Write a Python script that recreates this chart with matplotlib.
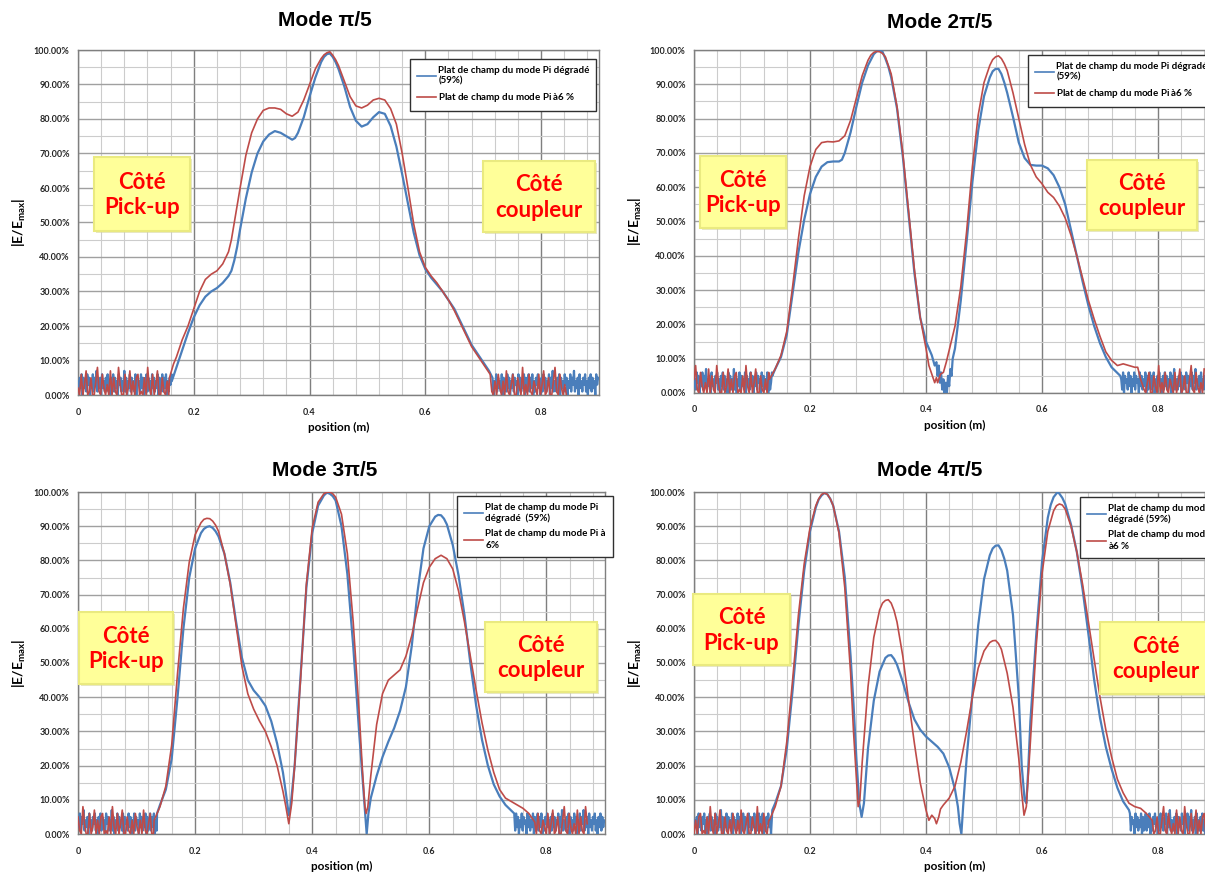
import numpy as np
import matplotlib
matplotlib.use("Agg")
import matplotlib.pyplot as plt
from matplotlib.ticker import MultipleLocator, PercentFormatter, FuncFormatter
from matplotlib.patches import Rectangle
from matplotlib.lines import Line2D

plt.rcParams["font.family"] = ["Lato", "DejaVu Sans"]
plt.rcParams["mathtext.fontset"] = "custom"
plt.rcParams["mathtext.rm"] = "Lato"
plt.rcParams["mathtext.bf"] = "Lato:bold"
plt.rcParams["mathtext.it"] = "Lato:italic"

W, H = 1205, 872
BLUE = "#4a7ebb"
RED = "#be4b48"

# --- donnees : (position m, |E/Emax| %) ---
# Mode pi/5
pi5_blue = [(0.162, 4), (0.17, 8), (0.18, 13), (0.19, 18), (0.2, 22.5), (0.21, 26), (0.22, 28.5),
            (0.23, 30), (0.24, 31), (0.25, 32.5), (0.26, 34.5), (0.265, 36), (0.27, 39), (0.275, 43),
            (0.28, 48), (0.29, 57), (0.30, 64.5), (0.31, 70), (0.32, 73.5), (0.33, 75.5), (0.34, 76.5),
            (0.35, 76), (0.36, 75), (0.37, 74), (0.375, 74.5), (0.38, 76), (0.39, 80.5), (0.40, 86.5),
            (0.41, 92), (0.42, 96.5), (0.425, 98), (0.43, 98.8), (0.435, 99), (0.44, 98), (0.445, 96.5),
            (0.45, 94.5), (0.46, 89.5),
            (0.47, 83.5), (0.48, 79.5), (0.49, 77.8), (0.50, 78.5), (0.51, 80.5), (0.52, 82), (0.53, 81.5),
            (0.54, 78), (0.55, 72), (0.56, 64), (0.57, 55.5), (0.58, 47), (0.59, 40.5), (0.60, 36.5),
            (0.61, 34), (0.62, 32), (0.63, 30), (0.64, 27.5), (0.65, 25), (0.66, 21.5), (0.67, 18),
            (0.68, 14.5), (0.69, 12), (0.70, 9.5), (0.71, 7), (0.716, 5)]
pi5_red = [(0.158, 5), (0.165, 9), (0.17, 11), (0.18, 16), (0.19, 20), (0.2, 25), (0.21, 30), (0.22, 33.5),
           (0.23, 35), (0.24, 36), (0.25, 38), (0.26, 41.5), (0.265, 45), (0.27, 50), (0.28, 60),
           (0.29, 69.5), (0.30, 76), (0.31, 80), (0.32, 82.5), (0.33, 83.2), (0.34, 83.2), (0.35, 82.8),
           (0.36, 81.5), (0.37, 80.8), (0.38, 82), (0.39, 85.5), (0.40, 90), (0.41, 94.5), (0.42, 97.5),
           (0.425, 98.6), (0.43, 99.2), (0.435, 99.5), (0.44, 98.5), (0.445, 97.2), (0.45, 95.5),
           (0.46, 91), (0.47, 86.5), (0.48, 83.8),
           (0.49, 83.2), (0.50, 84), (0.51, 85.5), (0.52, 86), (0.53, 85.5), (0.54, 83), (0.55, 78.5),
           (0.56, 70), (0.57, 60), (0.58, 49.5), (0.59, 41.5), (0.60, 37), (0.61, 34.5), (0.62, 32.5),
           (0.63, 30), (0.64, 27.5), (0.65, 24.5), (0.66, 21), (0.67, 17.5), (0.68, 14), (0.69, 11.5),
           (0.70, 9), (0.712, 6)]

# Mode 2pi/5
pi25_blue = [(0.135, 5), (0.14, 7), (0.15, 10.5), (0.16, 17), (0.17, 29), (0.18, 41), (0.19, 50.5),
             (0.20, 58), (0.21, 63), (0.22, 66), (0.23, 67.3), (0.24, 67.5), (0.25, 67.5), (0.255, 68),
             (0.26, 70), (0.27, 76), (0.28, 83.5), (0.29, 90.5), (0.30, 95.5), (0.31, 98.8), (0.315, 99.6),
             (0.32, 99.8), (0.325, 99.5), (0.33, 97.5), (0.335, 95.2), (0.34, 92), (0.35, 83), (0.36, 69),
             (0.37, 52), (0.38, 35),
             (0.39, 22), (0.40, 15), (0.41, 11), (0.415, 8), (0.418, 9), (0.420, 5), (0.422, 8),
             (0.424, 3), (0.426, 6), (0.428, 1), (0.430, 4), (0.432, 0), (0.434, 3), (0.436, 0),
             (0.438, 5), (0.440, 2), (0.442, 7), (0.444, 5), (0.446, 10), (0.45, 13), (0.46, 27),
             (0.47, 44), (0.48, 61.5), (0.49, 76.5), (0.50, 86.5), (0.51, 92), (0.515, 93.8), (0.52, 94.5),
             (0.525, 94.5), (0.53, 93), (0.535, 90.5),
             (0.54, 87.5), (0.55, 80.5), (0.56, 73), (0.57, 68.5), (0.58, 66.5), (0.59, 66.3),
             (0.60, 66.3), (0.61, 65.5), (0.62, 63.5), (0.63, 60), (0.64, 55), (0.65, 47.5), (0.66, 40),
             (0.67, 32.5), (0.68, 25.5), (0.69, 19.5), (0.70, 14.5), (0.71, 10.5), (0.72, 7.5), (0.735, 5)]
pi25_red = [(0.13, 4), (0.14, 7), (0.15, 11), (0.16, 18), (0.17, 31), (0.18, 45), (0.19, 57.5), (0.20, 66),
            (0.21, 71), (0.22, 73), (0.23, 73.3), (0.24, 73.2), (0.25, 73.5), (0.26, 75), (0.27, 79.5),
            (0.28, 86), (0.29, 92.5), (0.30, 97), (0.305, 98.5), (0.31, 99.3), (0.315, 99.6), (0.32, 99.5),
            (0.325, 99), (0.33, 98),
            (0.34, 93), (0.35, 83.5), (0.36, 70), (0.37, 53), (0.38, 36), (0.39, 22), (0.40, 13),
            (0.405, 8), (0.41, 5.5), (0.415, 3), (0.418, 4.5), (0.42, 3), (0.425, 5.5), (0.43, 6),
            (0.435, 9), (0.44, 12.5), (0.45, 19.5), (0.46, 31), (0.47, 47), (0.48, 66), (0.49, 81),
            (0.50, 90.5), (0.51, 95.5), (0.515, 97.2), (0.52, 98), (0.525, 98.3), (0.53, 97.5),
            (0.535, 96), (0.54, 94), (0.55, 87.5),
            (0.56, 80), (0.57, 72.5), (0.58, 66.5), (0.59, 63), (0.60, 61), (0.61, 58.5), (0.62, 57),
            (0.63, 54.5), (0.64, 51), (0.65, 46), (0.66, 40), (0.67, 33.5), (0.68, 27), (0.69, 21.5),
            (0.70, 16.5), (0.71, 12), (0.72, 9.5), (0.73, 8), (0.74, 8.5), (0.75, 8), (0.76, 7.5),
            (0.765, 7.5), (0.77, 4), (0.776, 1)]

# Mode 3pi/5
pi35_blue = [(0.135, 6), (0.14, 8.5), (0.15, 13), (0.16, 22), (0.17, 40), (0.18, 60), (0.19, 75),
             (0.20, 83.5), (0.21, 88), (0.215, 89.2), (0.22, 89.8), (0.225, 90), (0.23, 89.5),
             (0.235, 88.5), (0.24, 87), (0.25, 82), (0.26, 73.5),
             (0.27, 62), (0.28, 51.5), (0.29, 45), (0.30, 42), (0.31, 40), (0.32, 37.5), (0.33, 33),
             (0.34, 26.5), (0.35, 18), (0.355, 12), (0.36, 5.5), (0.363, 8), (0.37, 20), (0.38, 46),
             (0.39, 72), (0.40, 88), (0.41, 96), (0.42, 99), (0.425, 99.8), (0.43, 99.5), (0.435, 98.8),
             (0.44, 97.5),
             (0.45, 90), (0.46, 76), (0.47, 55), (0.48, 30), (0.487, 14), (0.49, 7), (0.493, 0),
             (0.496, 6), (0.50, 10.5), (0.51, 17), (0.52, 22.5), (0.53, 27), (0.54, 31), (0.55, 36),
             (0.56, 43), (0.57, 55), (0.58, 71), (0.59, 83.5), (0.60, 90), (0.61, 92.8), (0.615, 93.3),
             (0.62, 93.2), (0.625, 92.2),
             (0.63, 90.5), (0.64, 84.5), (0.65, 75.5), (0.66, 64), (0.67, 50), (0.68, 37.5), (0.69, 27.5),
             (0.70, 20), (0.71, 14.5), (0.72, 11), (0.73, 8.5), (0.745, 6)]
pi35_red = [(0.13, 4), (0.14, 8), (0.15, 14), (0.16, 26), (0.17, 47), (0.18, 66), (0.19, 79.5), (0.20, 87.5),
            (0.21, 91), (0.215, 92), (0.22, 92.3), (0.225, 92.2), (0.23, 91.5), (0.235, 90.3),
            (0.24, 88.5), (0.25, 82), (0.26, 73), (0.27, 61),
            (0.28, 49), (0.29, 41), (0.30, 36.5), (0.31, 33), (0.32, 30), (0.33, 25.5), (0.34, 20),
            (0.35, 12.5), (0.355, 8), (0.36, 3), (0.365, 9), (0.37, 20), (0.38, 45), (0.39, 73),
            (0.40, 89.5), (0.41, 97), (0.42, 99.5), (0.425, 99.9), (0.43, 100), (0.435, 99.5), (0.44, 98.5),
            (0.45, 93.5), (0.46, 82),
            (0.47, 62), (0.48, 36), (0.486, 18), (0.49, 8), (0.492, 6), (0.495, 8), (0.50, 17), (0.51, 32),
            (0.52, 41), (0.53, 45), (0.54, 46.5), (0.55, 48), (0.56, 52), (0.57, 58), (0.58, 66),
            (0.59, 73.5), (0.60, 78), (0.61, 80.5), (0.62, 81.5), (0.63, 80.5), (0.64, 77.5), (0.65, 71),
            (0.66, 62), (0.67, 52), (0.68, 42), (0.69, 32.5), (0.70, 24.5), (0.71, 18), (0.72, 13),
            (0.73, 10.5), (0.74, 9.5), (0.75, 8.5), (0.76, 7.5), (0.77, 6), (0.78, 3.5)]

# Mode 4pi/5
pi45_blue = [(0.135, 7), (0.14, 9), (0.15, 14), (0.16, 25), (0.17, 42), (0.18, 61), (0.19, 77),
             (0.20, 88.5), (0.21, 95.5), (0.215, 97.8), (0.22, 99), (0.225, 99.7), (0.23, 99.3),
             (0.235, 98), (0.24, 96), (0.25, 88.5),
             (0.26, 75), (0.27, 52), (0.275, 38), (0.28, 22), (0.285, 9), (0.289, 5), (0.293, 9),
             (0.30, 25), (0.31, 39), (0.32, 47.5), (0.33, 51.5), (0.335, 52.2), (0.34, 52.3), (0.345, 51.2),
             (0.35, 49.5), (0.36, 44.5),
             (0.37, 38.5), (0.38, 33.5), (0.39, 30.5), (0.40, 28.5), (0.41, 27), (0.42, 25.5), (0.43, 23.5),
             (0.44, 19.5), (0.45, 13), (0.455, 8), (0.458, 3), (0.461, 0), (0.464, 8), (0.47, 22),
             (0.48, 41), (0.49, 61), (0.50, 74.5), (0.51, 81.5), (0.515, 83.5), (0.52, 84.3), (0.525, 84.4),
             (0.53, 83), (0.535, 80.5),
             (0.54, 77), (0.55, 64), (0.56, 40), (0.565, 20), (0.57, 10), (0.573, 9), (0.576, 18),
             (0.58, 33), (0.59, 58), (0.60, 79.5), (0.61, 92.5), (0.615, 96.2), (0.62, 98.5), (0.627, 100),
             (0.63, 99.5), (0.635, 98.3),
             (0.64, 96.5), (0.65, 90.5), (0.66, 82.5), (0.67, 71.5), (0.68, 58.5), (0.69, 45), (0.70, 34),
             (0.71, 25.5), (0.72, 19), (0.73, 13.5), (0.74, 9.5), (0.75, 7)]
pi45_red = [(0.13, 4), (0.14, 8), (0.15, 14), (0.16, 27), (0.17, 45), (0.18, 64), (0.19, 79), (0.20, 89.5),
            (0.21, 96), (0.215, 98), (0.22, 99.3), (0.225, 99.7), (0.23, 99.3), (0.235, 98), (0.24, 96),
            (0.25, 88), (0.26, 72),
            (0.27, 47), (0.275, 30), (0.28, 16), (0.283, 8), (0.286, 10), (0.29, 21), (0.30, 43),
            (0.31, 57.5), (0.32, 65.5), (0.325, 67.5), (0.33, 68.3), (0.335, 68.5), (0.34, 67.5),
            (0.345, 65.3), (0.35, 62), (0.36, 52),
            (0.37, 39), (0.38, 26.5), (0.39, 15), (0.40, 7), (0.405, 4), (0.41, 5.5), (0.415, 4.5),
            (0.418, 3), (0.422, 5), (0.425, 7.3), (0.43, 8.5), (0.44, 10.5), (0.45, 14), (0.46, 21),
            (0.47, 30), (0.48, 40), (0.49, 48.5), (0.50, 53.5), (0.51, 56), (0.515, 56.5), (0.52, 56.6),
            (0.525, 55.7), (0.53, 54),
            (0.54, 47), (0.55, 37), (0.56, 22), (0.565, 12), (0.569, 5.5), (0.573, 8), (0.58, 27),
            (0.59, 55), (0.60, 76), (0.61, 88.5), (0.62, 94.5), (0.625, 96), (0.63, 96.5), (0.635, 96.2),
            (0.64, 95), (0.65, 90),
            (0.66, 82.5), (0.67, 73), (0.68, 62), (0.69, 51), (0.70, 40), (0.71, 30.5), (0.72, 22.5),
            (0.73, 16), (0.74, 12), (0.75, 9), (0.76, 8), (0.77, 7.5), (0.78, 6), (0.79, 4)]

# bruit de fond releve a la main (en %)
BLUE_NOISE = [4, 1, 5, 2, 6, 0, 5, 2, 4, 1, 6, 3, 5, 0, 4, 2, 6, 1, 5, 3, 7, 1, 4, 2, 5, 0, 6, 2, 4, 1,
              5, 3, 6, 1, 4, 0, 5, 2, 6, 1, 5, 2, 4, 0, 6, 3, 5, 1, 4, 2, 7, 1, 5, 0, 4, 2, 6, 1, 5, 2,
              4, 1, 6, 0, 5, 3, 4, 1, 6, 2, 5, 0, 4, 2, 6, 1, 5, 3, 4, 0, 6, 2, 5, 1, 4, 2, 6, 0, 5, 1,
              3, 6, 1, 5, 2, 6, 0, 4, 1, 5, 3, 6, 2, 4, 0, 5, 1, 6, 2, 5, 1, 4, 3, 6, 0, 5, 2, 7, 1, 4]
RED_NOISE = [2, 0, 6, 0, 3, 7, 0, 1, 5, 0, 0, 4, 8, 1, 0, 6, 2, 0, 3, 0, 7, 0, 5, 1, 0, 8, 3, 0, 0, 6,
             0, 2, 7, 0, 4, 0, 5, 6, 0, 1, 0, 5, 0, 8, 2, 0, 6, 0, 3, 7, 0, 0, 5, 1, 0, 4, 0, 6, 2, 0,
             4, 0, 7, 1, 0, 3, 6, 0, 0, 5, 2, 0, 8, 0, 3, 0, 6, 1, 0, 4]

# zones de bruit : (fin gauche, debut droite, fin droite)
pi5_spans = {"blue": (0.162, 0.716, 0.90), "red": (0.158, 0.712, 0.845)}
pi25_spans = {"blue": (0.135, 0.735, 0.90), "red": (0.13, 0.776, 0.88)}
pi35_spans = {"blue": (0.135, 0.745, 0.90), "red": (0.13, 0.78, 0.87)}
pi45_spans = {"blue": (0.135, 0.75, 0.90), "red": (0.13, 0.79, 0.90)}

titles = ["Mode \u03c0/5", "Mode 2\u03c0/5", "Mode 3\u03c0/5", "Mode 4\u03c0/5"]


def px(x, y):
    return x / W, 1 - y / H


def build(smooth, span, noise, step, shift):
    left_end, right_start, right_end = span
    xl = np.arange(0, left_end, step)
    xr = np.arange(right_start + step, right_end, step)
    n = len(noise)
    yl = [noise[(shift + i) % n] for i in range(len(xl))]
    yr = [noise[(shift + 53 + i) % n] for i in range(len(xr))]
    sx, sy = zip(*smooth)
    return np.concatenate([xl, sx, xr]), np.concatenate([yl, sy, yr])


fig = plt.figure(figsize=(W / 100, H / 100), dpi=100)

panels = [
    dict(rect=(78, 50, 521, 345), blue=pi5_blue, red=pi5_red, spans=pi5_spans, title=(325, 20),
         leg=(410, 59), labels=["Plat de champ du mode Pi dégradé\n(59%)", "Plat de champ du mode Pi à$\\mathbf{6}$ %"],
         boxes=[(94, 157, 190, 231, "Côté\nPick-up"), (483, 161, 595, 232, "Côté\ncoupleur")]),
    dict(rect=(694, 50, 522, 343), blue=pi25_blue, red=pi25_red, spans=pi25_spans, title=(940, 22),
         leg=(1028, 55), labels=["Plat de champ du mode Pi dégradé\n(59%)", "Plat de champ du mode Pi à$\\mathbf{6}$ %"],
         boxes=[(700, 156, 786, 228, "Côté\nPick-up"), (1087, 160, 1197, 230, "Côté\ncoupleur")]),
    dict(rect=(78, 492, 527, 342), blue=pi35_blue, red=pi35_red, spans=pi35_spans, title=(325, 470),
         leg=(457, 496), labels=["Plat de champ du mode Pi\ndégradé  (59%)", "Plat de champ du mode Pi à\n$\\mathbf{6}$%"],
         boxes=[(79, 612, 173, 684, "Côté\nPick-up"), (485, 622, 597, 692, "Côté\ncoupleur")]),
    dict(rect=(694, 492, 522, 342), blue=pi45_blue, red=pi45_red, spans=pi45_spans, title=(930, 470),
         leg=(1080, 497), labels=["Plat de champ du mode Pi\ndégradé (59%)", "Plat de champ du mode Pi\nà$\\mathbf{6}$ %"],
         boxes=[(693, 594, 790, 665, "Côté\nPick-up"), (1100, 622, 1212, 694, "Côté\ncoupleur")]),
]

for k, p in enumerate(panels):
    x0, y0, w, h = p["rect"]
    ax = fig.add_axes([x0 / W, 1 - (y0 + h) / H, w / W, h / H])

    bx, by = build(p["blue"], p["spans"]["blue"], BLUE_NOISE, 0.0016, 7 * k)
    rx, ry = build(p["red"], p["spans"]["red"], RED_NOISE, 0.0028, 11 * k)
    ax.plot(bx, by, color=BLUE, lw=1.6, zorder=3)
    ax.plot(rx, ry, color=RED, lw=1.2, zorder=4)

    ax.set_xlim(0, 0.9)
    ax.set_ylim(0, 100)
    ax.xaxis.set_major_locator(MultipleLocator(0.2))
    ax.xaxis.set_minor_locator(MultipleLocator(0.04))
    ax.yaxis.set_major_locator(MultipleLocator(10))
    ax.yaxis.set_minor_locator(MultipleLocator(5))
    ax.yaxis.set_major_formatter(PercentFormatter(xmax=100, decimals=2))
    ax.xaxis.set_major_formatter(FuncFormatter(lambda v, _: "0" if abs(v) < 1e-9 else f"{v:.1f}"))
    ax.grid(axis="x", which="major", color="#7f7f7f", lw=1.0, zorder=0)
    ax.grid(axis="y", which="major", color="#a0a0a0", lw=1.0, zorder=0)
    ax.grid(which="minor", color="#cccccc", lw=0.8, zorder=0)
    ax.set_axisbelow(True)
    ax.tick_params(which="both", length=0)
    ax.tick_params(axis="y", pad=6, labelsize=6.5, labelcolor="#262626")
    ax.tick_params(axis="x", pad=9, labelsize=6.5, labelcolor="#262626")
    for lab in ax.get_xticklabels() + ax.get_yticklabels():
        lab.set_fontweight("bold")
    for s in ax.spines.values():
        s.set_color("#7f7f7f")
        s.set_linewidth(1.0)

    ax.set_xlabel("position (m)", fontsize=8.5, fontweight="bold", labelpad=4)
    ax.set_ylabel(r"$\mathbf{|E/E_{max}|}$", fontsize=10, labelpad=4)

    handles = [Line2D([], [], color=BLUE, lw=1.2), Line2D([], [], color=RED, lw=1.2)]
    ax.legend(handles, p["labels"], loc="upper left", bbox_to_anchor=px(*p["leg"]),
              bbox_transform=fig.transFigure, fancybox=False, framealpha=1, edgecolor="#303030",
              prop=dict(family="Lato", weight="bold", size=7), handlelength=2.0,
              handletextpad=0.2, borderpad=0.7, labelspacing=0.6, borderaxespad=0)

    tx, ty = p["title"]
    fig.text(*px(tx, ty), titles[k], ha="center", va="center", fontsize=15, fontweight="bold",
             family=["Liberation Sans", "DejaVu Sans"])

    for (a, b, c, d, txt) in p["boxes"]:
        fig.patches.append(Rectangle(px(a + 2, d + 2), (c - a) / W, (d - b) / H, transform=fig.transFigure,
                                     facecolor="#d8d8a0", edgecolor="none", alpha=0.6, zorder=5))
        fig.patches.append(Rectangle(px(a, d), (c - a) / W, (d - b) / H, transform=fig.transFigure,
                                     facecolor="#ffff99", edgecolor="#eaea80", lw=1.5, zorder=6))
        fig.text(*px((a + c) / 2, (b + d) / 2 + 1), txt, ha="center", va="center", color="#ff0000",
                 fontsize=16, fontweight="bold", linespacing=1.25, zorder=7)

fig.savefig("out.png", dpi=100)
